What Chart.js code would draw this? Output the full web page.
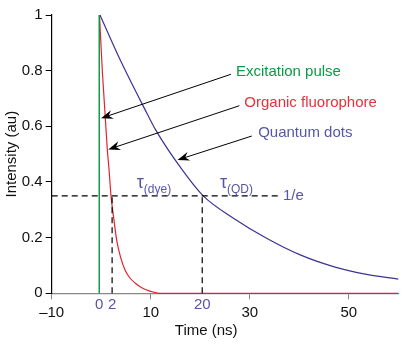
<!DOCTYPE html>
<html>
<head>
<meta charset="utf-8">
<script src="https://cdn.jsdelivr.net/npm/chart.js@4/dist/chart.umd.min.js"></script>
<style>
  html, body { margin: 0; padding: 0; background: #fff; }
  #wrap { width: 417px; height: 351px; }
</style>
</head>
<body>
<div id="wrap"><canvas id="lifetimeChart"></canvas></div>
<script>
// values (time in ns, intensity in au)
var xMin = -10, xMax = 60;
var xTicks = [-10, 10, 30, 50];
var yTicks = [0, 0.2, 0.4, 0.6, 0.8, 1];
var yTickLabels = ['0', '0.2', '0.4', '0.6', '0.8', '1'];

var pulseTime = [-0.4, -0.4];
var pulseIntensity = [0, 1];

var dyeTime = [-0.35, 0.22, 1.23, 1.58, 1.98, 2.6, 3.13, 3.9, 4.81, 5.8, 6.83, 8.2, 9.86, 11.8, 60];
var dyeIntensity = [1, 0.8, 0.516, 0.445, 0.35, 0.26, 0.19, 0.13, 0.084, 0.055, 0.037, 0.02, 0.008, 0, 0];

var qdTime = [-0.25, 3.8, 8.85, 10.9, 16.3, 20.6, 26.7, 33.4, 40.2, 46.9, 53.6, 60];
var qdIntensity = [1, 0.84, 0.66, 0.59, 0.445, 0.35, 0.27, 0.198, 0.138, 0.096, 0.068, 0.051];

var oneOverE = 0.35;
var tauDye = 2.2;
var tauQD = 20.4;
var eLineEnd = 36.1;

var FONT = 'Arial, "Liberation Sans", sans-serif';
var GREEN = '#0b9a45', RED = '#e8303c', BLUE = '#5656a8';

function pts(xs, ys) {
    return xs.map(function (x, i) { return { x: x, y: ys[i] }; });
}

var annotations = {
    id: 'annotations',
    afterDatasetsDraw: function (chart) {
        var c = chart.ctx, xs = chart.scales.x, ys = chart.scales.y;
        function X(v) { return xs.getPixelForValue(v); }
        function Y(v) { return ys.getPixelForValue(v); }

        function arrow(t0, v0, t1, v1) {
            var x0 = X(t0), y0 = Y(v0), x1 = X(t1), y1 = Y(v1);
            var a = Math.atan2(y1 - y0, x1 - x0);
            c.save();
            c.strokeStyle = '#000';
            c.lineWidth = 1;
            c.beginPath();
            c.moveTo(x0, y0);
            c.lineTo(x1 - 6 * Math.cos(a), y1 - 6 * Math.sin(a));
            c.stroke();
            c.translate(x1, y1);
            c.rotate(a);
            c.fillStyle = '#000';
            c.beginPath();
            c.moveTo(0, 0);
            c.lineTo(-12, -4.5);
            c.lineTo(-8, 0);
            c.lineTo(-12, 4.5);
            c.closePath();
            c.fill();
            c.restore();
        }

        function text(s, t, v, color, size, align) {
            c.save();
            c.font = size + 'px ' + FONT;
            c.fillStyle = color;
            c.textAlign = align || 'left';
            c.textBaseline = 'middle';
            c.fillText(s, X(t), Y(v));
            c.restore();
        }

        arrow(26.2, 0.787, -0.04, 0.629);
        arrow(27.9, 0.674, 1.43, 0.517);
        arrow(30.4, 0.565, 15.4, 0.479);

        text('Excitation pulse', 27.2, 0.795, GREEN, 15);
        text('Organic fluorophore', 28.9, 0.684, RED, 15);
        text('Quantum dots', 31.7, 0.576, BLUE, 15);

        text('1/e', 36.7, oneOverE, BLUE, 15);
        text('\u03C4', 7.2, 0.398, BLUE, 18);
        text('(dye)', 8.6, 0.372, BLUE, 12);
        text('\u03C4', 24.0, 0.398, BLUE, 18);
        text('(QD)', 25.4, 0.372, BLUE, 12);

        // blue time marks under the axis
        c.save();
        c.font = '15px ' + FONT;
        c.fillStyle = BLUE;
        c.textAlign = 'center';
        c.textBaseline = 'middle';
        var yb = ys.bottom + 12;
        c.fillText('0', X(pulseTime[0]), yb);
        c.fillText('2', X(tauDye), yb);
        c.fillText('20', X(tauQD), yb);
        c.restore();

        // x axis title
        c.save();
        c.font = '15px ' + FONT;
        c.fillStyle = '#111';
        c.textAlign = 'center';
        c.textBaseline = 'middle';
        c.fillText('Time (ns)', X(21.2), ys.bottom + 38);
        c.restore();
    }
};

var dashed = { borderColor: '#000', borderWidth: 1.2, borderDash: [6, 4], pointRadius: 0, tension: 0, clip: 4 };

var ctx = document.getElementById('lifetimeChart').getContext('2d');

var chart = new Chart(ctx, {
    type: 'line',
    data: {
        datasets: [
            Object.assign({ data: pts([xMin, eLineEnd], [oneOverE, oneOverE]) }, dashed),
            Object.assign({ data: pts([tauDye, tauDye], [0, oneOverE]) }, dashed),
            Object.assign({ data: pts([tauQD, tauQD], [0, oneOverE]) }, dashed),
            {
                label: 'Excitation pulse',
                data: pts(pulseTime, pulseIntensity),
                borderColor: '#08923e',
                borderWidth: 1.4,
                pointRadius: 0,
                tension: 0,
                clip: 4
            },
            {
                label: 'Organic fluorophore',
                data: pts(dyeTime, dyeIntensity),
                borderColor: '#e8202c',
                borderWidth: 1.2,
                pointRadius: 0,
                cubicInterpolationMode: 'monotone',
                clip: 4
            },
            {
                label: 'Quantum dots',
                data: pts(qdTime, qdIntensity),
                borderColor: '#3b3592',
                borderWidth: 1.2,
                pointRadius: 0,
                cubicInterpolationMode: 'monotone',
                clip: 4
            }
        ]
    },
    options: {
        responsive: true,
        maintainAspectRatio: false,
        animation: false,
        layout: { padding: { top: 15, right: 18.7, left: 0, bottom: 0 } },
        plugins: {
            legend: { display: false },
            tooltip: { enabled: false }
        },
        scales: {
            x: {
                type: 'linear',
                min: xMin,
                max: xMax,
                afterBuildTicks: function (axis) {
                    axis.ticks = xTicks.map(function (v) { return { value: v }; });
                },
                afterFit: function (axis) { axis.height = 57.7; },
                ticks: {
                    color: '#111',
                    font: { family: FONT, size: 15 },
                    padding: 5,
                    maxRotation: 0,
                    autoSkip: false,
                    callback: function (v) { return v < 0 ? '\u2013' + Math.abs(v) : String(v); }
                },
                grid: { drawOnChartArea: false, tickLength: 6, color: '#888' },
                border: { color: '#888', width: 1.2 }
            },
            y: {
                type: 'linear',
                min: 0,
                max: 1,
                afterBuildTicks: function (axis) {
                    axis.ticks = yTicks.map(function (v) { return { value: v }; });
                },
                afterFit: function (axis) { axis.width = 51.7; },
                ticks: {
                    color: '#111',
                    font: { family: FONT, size: 15 },
                    padding: 3,
                    callback: function (v, i) { return yTickLabels[i]; }
                },
                grid: { drawOnChartArea: false, tickLength: 6, color: '#000' },
                border: { color: '#000', width: 1.2 },
                title: {
                    display: true,
                    text: 'Intensity (au)',
                    color: '#111',
                    font: { family: FONT, size: 15 },
                    padding: { top: 3, bottom: 3 }
                }
            }
        }
    },
    plugins: [annotations]
});
</script>
</body>
</html>
